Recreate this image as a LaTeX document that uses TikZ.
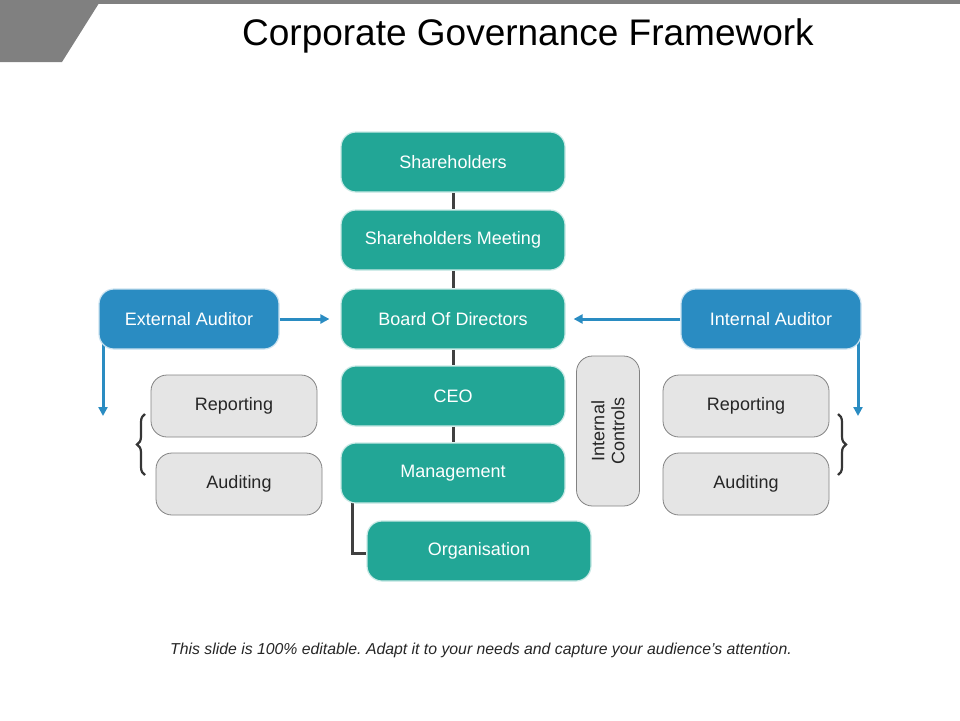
\documentclass[tikz,border=0pt]{standalone}
\usepackage{fontspec}
\setmainfont{Liberation Sans}
\usetikzlibrary{arrows.meta,backgrounds,decorations.pathreplacing}
\definecolor{teal1}{RGB}{34,166,150}
\definecolor{blue1}{RGB}{42,140,194}
\definecolor{grayfill}{RGB}{229,229,229}
\definecolor{grayline}{RGB}{130,130,130}
\definecolor{darkline}{RGB}{64,64,64}
\definecolor{txtdark}{RGB}{38,38,38}
\definecolor{topgray}{RGB}{128,128,128}
\tikzset{
  tealbox/.style={rectangle, rounded corners=15pt, fill=teal1, draw=teal1!25, line width=1.2pt,
    minimum width=224pt, minimum height=60pt, inner sep=0pt, text=white,
    font=\fontsize{18}{21}\selectfont},
  bluebox/.style={rectangle, rounded corners=15pt, fill=blue1, draw=blue1!25, line width=1.2pt,
    minimum width=180pt, minimum height=60pt, inner sep=0pt, text=white,
    font=\fontsize{18}{21}\selectfont},
  graybox/.style={rectangle, rounded corners=16pt, fill=grayfill, draw=grayline, line width=0.8pt,
    minimum width=166pt, minimum height=62pt, inner sep=0pt, text=txtdark,
    font=\fontsize{18}{21}\selectfont},
  vline/.style={draw=darkline, line width=3pt},
  barrow/.style={draw=blue1, line width=3pt, -{Triangle[length=9pt,width=9pt]}},
  bracestyle/.style={draw=darkline!85!black, line width=2.2pt, decorate,
    decoration={brace, amplitude=8pt}},
}
\begin{document}
\frenchspacing
\begin{tikzpicture}[x=1pt,y=-1pt]
\useasboundingbox (0,0) rectangle (960,720);
% header decorations
\fill[topgray] (0,0) rectangle (960,4);
\fill[topgray] (0,0) -- (101,0) -- (62,62) -- (0,62) -- cycle;
\node[font=\fontsize{37}{42}\selectfont, text=black] (title) at (528,36) {Corporate Governance Framework};

% central chain
\node[tealbox] (sh) at (453,162) {Shareholders};
\node[tealbox] (shm) at (453,240) {Shareholders Meeting};
\node[tealbox] (bod) at (453,319) {Board Of Directors};
\node[tealbox] (ceo) at (453,396) {CEO};
\node[tealbox] (mgmt) at (453,473) {Management};
\node[tealbox] (org) at (479,551) {Organisation};

% auditors
\node[bluebox] (ext) at (189,319) {External Auditor};
\node[bluebox] (int) at (771,319) {Internal Auditor};

% gray boxes
\node[graybox] (lrep) at (234,406) {Reporting};
\node[graybox] (laud) at (239,484) {Auditing};
\node[graybox] (rrep) at (746,406) {Reporting};
\node[graybox] (raud) at (746,484) {Auditing};
\node[graybox, minimum width=150pt, minimum height=63pt, rotate=90, align=center,
      font=\fontsize{18}{20}\selectfont] (ic) at (608,431) {Internal\\Controls};

% coordinates for free ends
\coordinate (edown) at (103,416);
\coordinate (idown) at (858,416);
\coordinate (orgcorner) at (352,553);

\begin{scope}[on background layer]
\draw[vline] (sh) -- (shm);
\draw[vline] (shm) -- (bod);
\draw[vline] (bod) -- (ceo);
\draw[vline] (ceo) -- (mgmt);
\draw[vline] (orgcorner |- mgmt.center) -- (orgcorner) -- (org.west |- orgcorner);
\draw[barrow, shorten >=11pt] (ext.east) -- (bod.west);
\draw[barrow, shorten >=8pt] (int.west) -- (bod.east);
\draw[barrow] (edown |- ext.center) -- (edown);
\draw[barrow] (idown |- int.center) -- (idown);
\end{scope}

% braces
\draw[bracestyle] (145,475) -- (145,414);
\draw[bracestyle] (838,414) -- (838,475);

% footer
\node[font=\fontsize{15.8}{18}\selectfont\itshape, text=txtdark] (foot) at (481,650)
  {This slide is 100\% editable. Adapt it to your needs and capture your audience's attention.};
\end{tikzpicture}
\end{document}
